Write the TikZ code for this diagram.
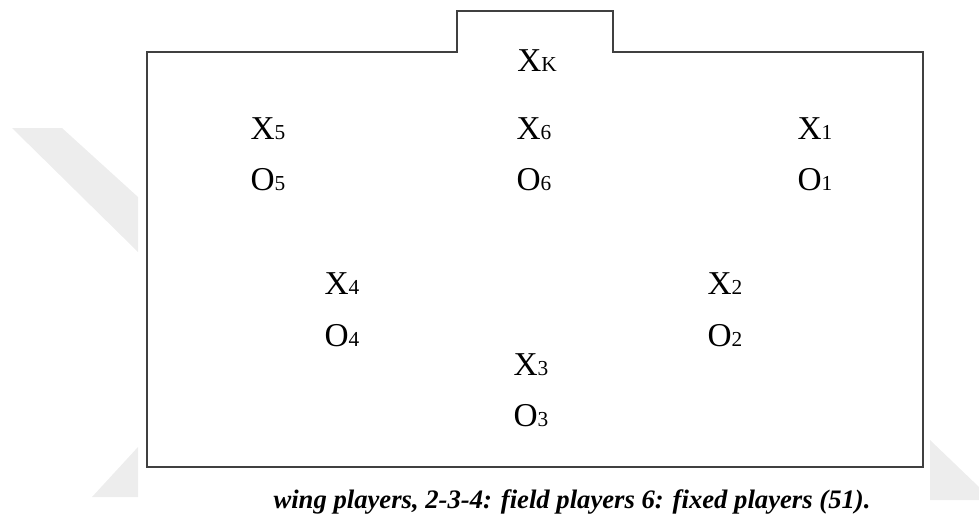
\documentclass[tikz,border=0pt]{standalone}
\usepackage{fontspec}
\setmainfont{Liberation Serif}
% small index after each player letter
\newcommand\pnum[1]{{\fontsize{16}{18}\selectfont #1}}
\begin{document}
\begin{tikzpicture}[x=0.75pt, y=-0.75pt,
    court/.style={draw=black!75, line width=1.5pt, fill=white},
    plyr/.style={inner sep=0pt, font=\fontsize{25}{28}\selectfont},
    wmark/.style={fill=black!7, draw=none}
  ]
  \useasboundingbox (0,0) rectangle (979,518);
  % faint background bands
  \fill[wmark] (12,128) -- (62,128) -- (138,197) -- (138,252) -- cycle;
  \fill[wmark] (138,447) -- (138,497) -- (92,497) -- cycle;
  \fill[wmark] (930,440) -- (979,487) -- (979,500) -- (930,500) -- cycle;
  % court with goal on top
  \draw[court] (147,52) -- (457,52) -- (457,11) -- (613,11) -- (613,52)
    -- (923,52) -- (923,467) -- (147,467) -- cycle;
  % keeper
  \node[plyr] (xk) at (537,61) {X\pnum{K}};
  % attackers X and defenders O
  \node[plyr] (x5) at (268,129) {X\pnum{5}};
  \node[plyr] (o5) at (268,180) {O\pnum{5}};
  \node[plyr] (x6) at (534,129) {X\pnum{6}};
  \node[plyr] (o6) at (534,180) {O\pnum{6}};
  \node[plyr] (x1) at (815,129) {X\pnum{1}};
  \node[plyr] (o1) at (815,180) {O\pnum{1}};
  \node[plyr] (x4) at (342,284) {X\pnum{4}};
  \node[plyr] (o4) at (342,336) {O\pnum{4}};
  \node[plyr] (x2) at (725,284) {X\pnum{2}};
  \node[plyr] (o2) at (725,336) {O\pnum{2}};
  \node[plyr] (x3) at (531,365) {X\pnum{3}};
  \node[plyr] (o3) at (531,416) {O\pnum{3}};
  % caption
  \node[anchor=base, inner sep=0pt, font=\fontsize{20}{24}\selectfont\bfseries\itshape]
    (cap) at (572,508) {wing players, 2-3-4: field players 6: fixed players (51).};
\end{tikzpicture}
\end{document}
